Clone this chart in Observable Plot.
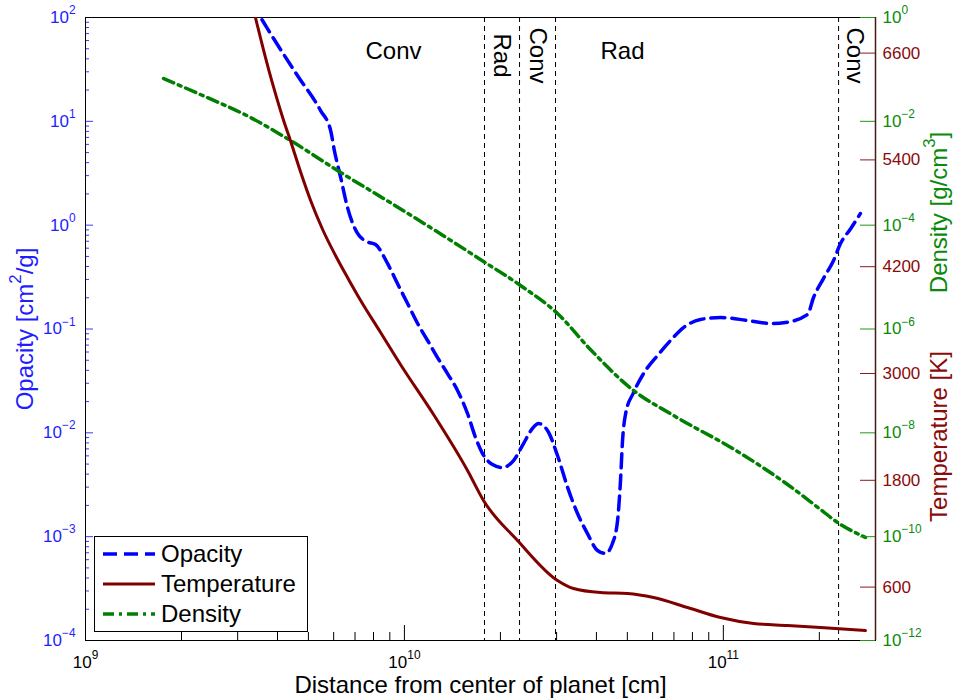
<!DOCTYPE html>
<html>
<head>
<meta charset="utf-8">
<script src="https://cdn.jsdelivr.net/npm/d3@7"></script>
<script src="https://cdn.jsdelivr.net/npm/@observablehq/plot@0.6"></script>
<style>
  body { margin: 0; background: #fff; }
  #chart { position: relative; width: 953px; height: 699px; background: #fff; }
  #chart svg { position: absolute; left: 0; top: 0; }
</style>
</head>
<body>
<div id="chart"></div>
<script>
// ---------------- data ----------------
const opacityR = [3.29e9, 3.54e9, 3.80e9, 4.62e9, 5.46e9, 5.87e9, 6.03e9, 6.31e9, 6.63e9, 7.13e9, 7.61e9, 8.12e9, 8.85e9, 9.51e9,
  1.023e10, 1.100e10, 1.182e10, 1.270e10, 1.365e10, 1.467e10, 1.577e10, 1.671e10, 1.758e10, 1.889e10, 2.030e10, 2.198e10,
  2.363e10, 2.52e10, 2.633e10, 2.81e10, 3.02e10, 3.25e10, 3.49e10, 3.75e10, 4.03e10, 4.27e10, 4.49e10, 4.66e10, 4.76e10,
  4.83e10, 4.94e10, 5.23e10, 5.62e10, 6.22e10, 6.83e10, 7.50e10, 8.48e10, 9.80e10, 1.191e11, 1.406e11, 1.567e11, 1.837e11,
  1.918e11, 2.06e11, 2.216e11, 2.33e11, 2.51e11, 2.69e11];
const opacityK = [140, 100, 70.2, 27.6, 12.7, 8.16, 5.24, 2.88, 1.48, 0.832, 0.696, 0.651, 0.428, 0.274,
  0.176, 0.113, 0.0775, 0.0531, 0.0372, 0.0256, 0.01535, 0.00902, 0.00632, 0.00495, 0.00463, 0.00541,
  0.00789, 0.01101, 0.0123, 0.01052, 0.00605, 0.00297, 0.00167, 0.00107, 0.000736, 0.000689, 0.000859, 0.00143, 0.00348,
  0.00843, 0.01535, 0.0244, 0.0372, 0.0556, 0.0775, 0.1033, 0.1234, 0.129, 0.1208, 0.113, 0.1156, 0.138,
  0.201, 0.306, 0.457, 0.665, 0.929, 1.295];

const temperatureR = [3.29e9, 3.41e9, 3.62e9, 3.89e9, 4.18e9, 4.39e9, 4.72e9, 5.08e9, 5.54e9, 6.08e9, 6.63e9, 7.29e9,
  8.42e9, 9.72e9, 1.234e10, 1.577e10, 1.77e10, 2.263e10, 3.02e10, 3.39e10, 4.12e10, 5.01e10, 6.04e10, 7.72e10,
  9.80e10, 1.244e11, 1.59e11, 2.017e11, 2.79e11];
const temperatureK = [7236, 7000, 6629, 6214, 5843, 5618, 5270, 4944, 4618, 4326, 4079, 3820,
  3461, 3101, 2539, 1910, 1573, 1124, 674, 584, 539, 528, 483, 371,
  258, 191, 169, 146, 112];

const densityR = [1.757e9, 2.29e9, 3.29e9, 4.39e9, 6.31e9, 8.60e9, 1.234e10, 1.77e10, 2.312e10, 3.02e10, 3.83e10,
  5.23e10, 6.98e10, 1.108e11, 1.59e11, 2.017e11, 2.28e11, 2.79e11];
const densityRho = [0.0668, 0.0329, 0.01186, 0.00428, 1.034e-3, 3.27e-4, 8.26e-5, 2.0e-5, 6.89e-6, 1.99e-6, 4.03e-7,
  6.54e-8, 2.16e-8, 4.38e-9, 1.01e-9, 3.34e-10, 1.88e-10, 9.66e-11];

const zoneBoundaries = [1.783e10, 2.296e10, 2.977e10, 2.298e11];
const zoneLabels = ["Conv", "Rad", "Conv", "Rad", "Conv"];
const zoneLabelR = [9.24e9, 2.03e10, 2.63e10, 4.83e10, 2.60e11];
const zoneLabelVertical = [false, true, true, false, true];

const xDomain = [1e9, 3e11];
const xMajorTicks = [1e9, 1e10, 1e11];
const xMinorTicks = [2e9, 3e9, 4e9, 5e9, 6e9, 7e9, 8e9, 9e9, 2e10, 3e10, 4e10, 5e10, 6e10, 7e10, 8e10, 9e10, 2e11];
const opacityDomain = [1e-4, 1e2];
const opacityMajorTicks = [1e-4, 1e-3, 1e-2, 1e-1, 1e0, 1e1, 1e2];
const opacityMinorTicks = [];
for (let e = -4; e < 2; e++) for (let m = 2; m <= 9; m++) opacityMinorTicks.push(m * Math.pow(10, e));
const densityDomain = [1e-12, 1];
const densityTicks = [1e-12, 1e-10, 1e-8, 1e-6, 1e-4, 1e-2, 1e0];
const temperatureDomain = [0, 7000];
const temperatureTicks = [600, 1800, 3000, 4200, 5400, 6600];

const seriesNames = ["Opacity", "Temperature", "Density"];
const axisTitles = {x: "Distance from center of planet [cm]", opacity: "Opacity [cm^2/g]",
  density: "Density [g/cm^3]", temperature: "Temperature [K]"};

// ---------------- styles ----------------
const FONT = "'Liberation Sans', Arial, Helvetica, sans-serif";
const BLUE = "#0000ff", RED = "#800000", GREEN = "#008000";
const styles = {
  Opacity: {stroke: BLUE, strokeWidth: 3.5, strokeDasharray: "14,7"},
  Temperature: {stroke: RED, strokeWidth: 3, strokeDasharray: null},
  Density: {stroke: GREEN, strokeWidth: 3.5, strokeDasharray: "11,5,3,5"}
};
const W = 953, H = 699;
const M = {top: 17, right: 78, bottom: 59, left: 85};
const plotW = W - M.left - M.right, plotH = H - M.top - M.bottom;
const midY = M.top + plotH / 2;
const expFmt = d => `10^${Math.round(Math.log10(d))}`;

const toRows = (xs, ys) => xs.map((x, i) => ({x, y: ys[i]}));

function layer(yScale, marks) {
  return Plot.plot({
    width: W, height: H,
    marginTop: M.top, marginRight: M.right, marginBottom: M.bottom, marginLeft: M.left,
    x: {type: "log", domain: xDomain, axis: null},
    y: {...yScale, axis: null},
    style: {background: "transparent", fontFamily: FONT, overflow: "visible"},
    marks
  });
}

function superscripts(svg) {
  svg.querySelectorAll("text").forEach(el => {
    const s = el.textContent;
    if (!s.includes("^")) return;
    const parts = s.split(/\^(-?\d+)/);
    while (el.firstChild) el.removeChild(el.firstChild);
    let raised = false;
    parts.forEach((p, i) => {
      if (p === "") return;
      const ts = document.createElementNS("http://www.w3.org/2000/svg", "tspan");
      if (i % 2) {
        ts.textContent = p.replace("-", "\u2212");
        ts.setAttribute("font-size", "70%");
        ts.setAttribute("dy", "-0.75em");
        raised = true;
      } else {
        ts.textContent = p;
        if (raised) { ts.setAttribute("dy", "0.525em"); raised = false; }
      }
      el.appendChild(ts);
    });
  });
}

// ---------------- layer A: opacity, frame, x axis, labels ----------------
const zoneRows = zoneLabels.map((t, i) => ({t, x: zoneLabelR[i], v: zoneLabelVertical[i]}));
const layerA = layer({type: "log", domain: opacityDomain}, [
  Plot.ruleX(zoneBoundaries, {stroke: "#000", strokeWidth: 1, strokeDasharray: "5,4"}),
  Plot.line(toRows(opacityR, opacityK), {x: "x", y: "y", ...styles.Opacity, curve: "monotone-x", clip: true}),
  Plot.tickY(opacityMajorTicks, {y: d => d, stroke: "#3a3aff", insetRight: plotW - 8}),
  Plot.tickY(opacityMinorTicks, {y: d => d, stroke: "#3a3aff", insetRight: plotW - 4}),
  Plot.axisY({anchor: "left", ticks: opacityMajorTicks, tickSize: 0, tickPadding: 10, tickFormat: expFmt,
    fontSize: 17, color: "#1e1eff", label: null}),
  Plot.tickX(xMajorTicks, {x: d => d, stroke: "#000", insetTop: plotH - 15}),
  Plot.tickX(xMinorTicks, {x: d => d, stroke: "#000", insetTop: plotH - 8}),
  Plot.axisX({anchor: "bottom", ticks: xMajorTicks, tickSize: 0, tickPadding: 15, tickFormat: expFmt,
    fontSize: 17, color: "#000", label: null}),
  Plot.frame({stroke: "#000"}),
  Plot.text(zoneRows.filter(d => !d.v),
    {x: "x", text: "t", frameAnchor: "top", dy: 34, fontSize: 24, fill: "#000", lineAnchor: "middle", textAnchor: "middle"}),
  Plot.text(zoneRows.filter(d => d.v),
    {x: "x", text: "t", frameAnchor: "top", dy: 38, dx: -1, rotate: 90, fontSize: 24, fill: "#000",
     lineAnchor: "middle", textAnchor: "middle"}),
  Plot.text([axisTitles.x], {text: d => d, frameAnchor: "bottom", dy: 45, fontSize: 24, fill: "#000",
    lineAnchor: "middle", textAnchor: "middle"}),
  Plot.text([axisTitles.opacity], {text: d => d, frameAnchor: "left", dx: -60, rotate: -90, fontSize: 24,
    fill: "#1e1eff", lineAnchor: "middle", textAnchor: "middle"}),
  Plot.text([axisTitles.density], {text: d => d, frameAnchor: "right", dx: 64, dy: 212 - midY,
    rotate: -90, fontSize: 24, fill: "#0a8a0a", lineAnchor: "middle", textAnchor: "middle"}),
  Plot.text([axisTitles.temperature], {text: d => d, frameAnchor: "right", dx: 64, dy: 436 - midY,
    rotate: -90, fontSize: 24, fill: "#8b0a0a", lineAnchor: "middle", textAnchor: "middle"})
]);

// ---------------- layer B: density ----------------
const layerB = layer({type: "log", domain: densityDomain}, [
  Plot.line(toRows(densityR, densityRho), {x: "x", y: "y", ...styles.Density, curve: "monotone-x", clip: true}),
  Plot.tickY(densityTicks, {y: d => d, stroke: "#1a9a1a", insetLeft: plotW - 15}),
  Plot.axisY({anchor: "right", ticks: densityTicks, tickSize: 0, tickPadding: 7, tickFormat: expFmt,
    fontSize: 17, color: "#0a8a0a", label: null})
]);

// ---------------- layer C: temperature ----------------
const layerC = layer({type: "linear", domain: temperatureDomain}, [
  Plot.line(toRows(temperatureR, temperatureK), {x: "x", y: "y", ...styles.Temperature, curve: "monotone-x", clip: true}),
  Plot.tickY(temperatureTicks, {y: d => d, stroke: "#8b1a1a", insetLeft: plotW - 15}),
  Plot.axisY({anchor: "right", ticks: temperatureTicks, tickSize: 0, tickPadding: 7, tickFormat: d => String(d),
    fontSize: 17, color: "#8b0a0a", label: null}),
  Plot.ruleX([xDomain[1]], {stroke: "#4a1a12", strokeWidth: 1.5})
]);

const chart = document.getElementById("chart");
[layerA, layerB, layerC].forEach(svg => { superscripts(svg); chart.appendChild(svg); });

// ---------------- legend ----------------
const leg = d3.create("svg").attr("width", W).attr("height", H)
  .style("font-family", FONT).style("position", "absolute").style("left", 0).style("top", 0);
const box = {x: 94.5, y: 536.5, w: 213, h: 95, row: 30, first: 554, lineX0: 103, lineX1: 155, textX: 161};
leg.append("rect").attr("x", box.x).attr("y", box.y).attr("width", box.w).attr("height", box.h)
  .attr("fill", "#fff").attr("stroke", "#000").attr("stroke-width", 1);
seriesNames.forEach((name, i) => {
  const y = box.first + i * box.row, s = styles[name];
  leg.append("line").attr("x1", box.lineX0).attr("x2", box.lineX1).attr("y1", y).attr("y2", y)
    .attr("stroke", s.stroke).attr("stroke-width", s.strokeWidth)
    .attr("stroke-dasharray", s.strokeDasharray);
  leg.append("text").attr("x", box.textX).attr("y", y).attr("dy", "0.35em")
    .attr("font-size", 24).attr("fill", "#000").text(name);
});
chart.appendChild(leg.node());
</script>
</body>
</html>
